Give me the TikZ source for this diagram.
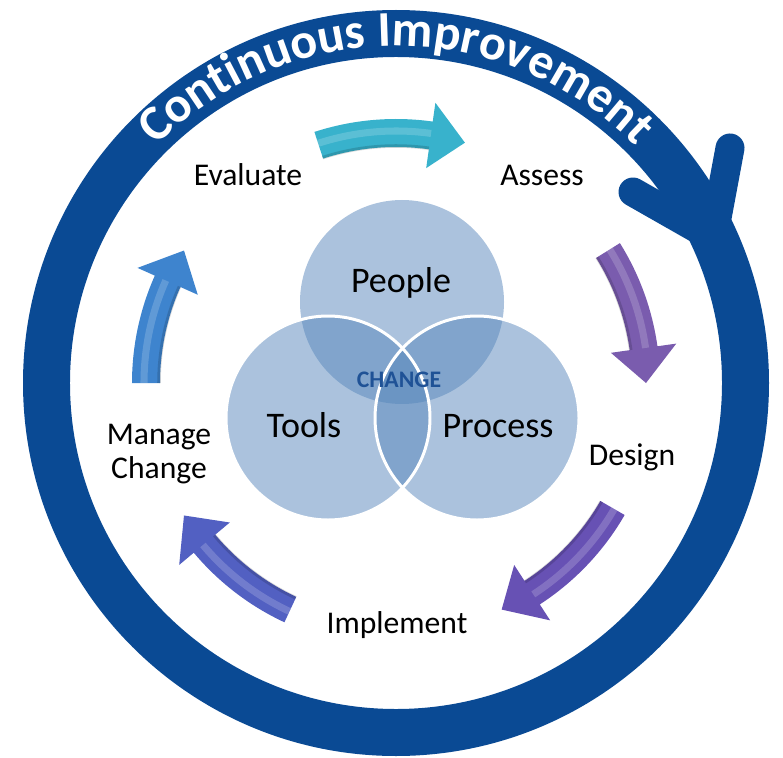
\documentclass[tikz,border=0pt]{standalone}
\usepackage{fontspec}
\setmainfont{Carlito}
\usetikzlibrary{decorations.text}

\definecolor{ringblue}{HTML}{0A4A94}
\definecolor{venn}{HTML}{5786BB}
\definecolor{changeblue}{HTML}{1F5296}
\definecolor{cyanarrow}{HTML}{38B2CC}
\definecolor{purplearrow}{HTML}{7A5CAE}
\definecolor{violetarrow}{HTML}{6751B4}
\definecolor{indigoarrow}{HTML}{5260C2}
\definecolor{bluearrow}{HTML}{3E84CE}

\newcommand{\ringfont}{\fontsize{28.5}{29}\selectfont\bfseries}

\tikzset{
    ring/.style={draw=ringblue, line width=0.94cm},
    barb/.style={draw=ringblue, line width=0.58cm, line cap=round, line join=round},
    vennset/.style={fill=venn, fill opacity=0.5},
    vennedge/.style={draw=white, line width=1.7pt},
    stage/.style={font=\fontsize{18}{19}\selectfont, align=center},
    part/.style={font=\fontsize{20.5}{22}\selectfont},
}

% start angle, end angle, colour
\newcommand{\cyclearrow}[3]{%
    \pgfmathsetmacro{\headbase}{#2+8}
    \fill[#3] (#1:236) arc[start angle=#1, end angle=\headbase, radius=236]
        -- (\headbase:217) -- (#2:250) -- (\headbase:283) -- (\headbase:264)
        arc[start angle=\headbase, end angle=#1, radius=264] -- cycle;
    \draw[white, opacity=0.18, line width=4pt] (#1:252) arc[start angle=#1, end angle=\headbase, radius=252];
    \draw[black, opacity=0.15, line width=2pt] (#1:237) arc[start angle=#1, end angle=\headbase, radius=237];
}

\begin{document}
\begin{tikzpicture}[x=0.02cm, y=0.02cm]
            \useasboundingbox (-396,-374) rectangle (387,383);
            \draw[ring] (0,0) circle[radius=349.5];
            \coordinate (tip) at (24.6:349);
            \coordinate (barbleft) at (237,191);
            \coordinate (barbup) at (334,235);
            \draw[barb] (barbleft) -- (tip) -- (barbup);
            \path[decorate, decoration={text along path, text align=center, text color=white,
                text={|\ringfont|Continuous Improvement}}]
                (160:337) arc[start angle=160, end angle=20, radius=337];

            \fill[vennset] (6,81) circle[radius=102];
            \fill[vennset] (-68,-35) circle[radius=102];
            \fill[vennset] (81,-35) circle[radius=102];
            \draw[vennedge] (-68,-35) circle[radius=102];
            \draw[vennedge] (81,-35) circle[radius=102];
            \node[part, anchor=base] (people) at (5,91) {People};
            \node[part, anchor=base] (tools) at (-92,-54) {Tools};
            \node[part, anchor=base] (process) at (102,-54) {Process};
            \node[anchor=base, font=\fontsize{13.5}{14}\selectfont\bfseries, text=changeblue] (change) at (3,-4) {CHANGE};

            \node[stage, anchor=base] (evaluate) at (-148,197) {Evaluate};
            \node[stage, anchor=base] (assess) at (146,197) {Assess};
            \node[stage, anchor=base] (design) at (236,-82) {Design};
            \node[stage, anchor=base] (implement) at (1,-250) {Implement};
            \node[stage] (manage) at (-237,-71) {Manage\\Change};

            \cyclearrow{108}{74}{cyanarrow}
            \cyclearrow{32}{0}{purplearrow}
            \cyclearrow{-30}{-65}{violetarrow}
            \cyclearrow{245}{212}{indigoarrow}
            \cyclearrow{180}{148}{bluearrow}
\end{tikzpicture}
\end{document}
